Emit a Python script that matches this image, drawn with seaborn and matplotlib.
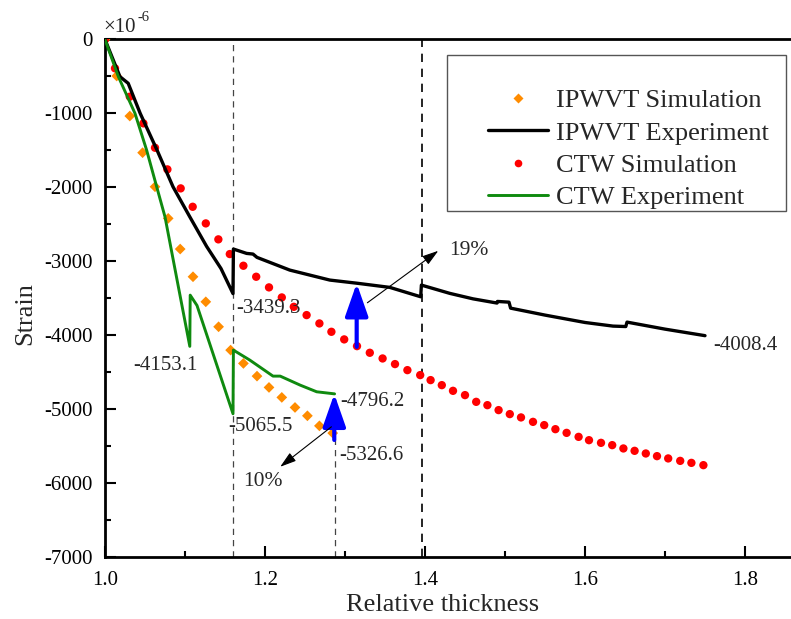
import seaborn as sns
import matplotlib.pyplot as plt
import pandas as pd
from matplotlib.ticker import MultipleLocator, FormatStrFormatter
from matplotlib.lines import Line2D
from matplotlib.patches import Rectangle

# IPWVT simulation (orange diamonds)
ipwvt_sim_x = [1.0, 1.0146, 1.031, 1.047, 1.0625, 1.079, 1.094, 1.110, 1.126, 1.142,
               1.157, 1.173, 1.190, 1.205, 1.221, 1.2375, 1.253, 1.268, 1.2846]
ipwvt_sim_y = [0, -494, -1036, -1532, -1993, -2421, -2836, -3211, -3550, -3888,
               -4204, -4384, -4556, -4709, -4844, -4980, -5093, -5229, -5326.6]

# CTW simulation (red dots)
ctw_sim_x = [1.0, 1.0125, 1.031, 1.048, 1.0625, 1.078, 1.0946, 1.1096, 1.126, 1.1417,
             1.156, 1.173, 1.189, 1.205, 1.221, 1.236, 1.252, 1.268, 1.283, 1.299,
             1.315, 1.331, 1.347, 1.3625, 1.378, 1.394, 1.407, 1.421, 1.435, 1.45,
             1.464, 1.478, 1.492, 1.506, 1.52, 1.535, 1.549, 1.563, 1.577, 1.592,
             1.605, 1.62, 1.634, 1.648, 1.662, 1.676, 1.690, 1.704, 1.719, 1.733, 1.748]
ctw_sim_y = [0, -390, -774, -1135, -1465, -1758, -2015, -2264, -2489, -2705,
             -2904, -3062, -3211, -3355, -3491, -3618, -3730, -3843, -3956, -4059,
             -4150, -4240, -4317, -4393, -4475, -4542, -4610, -4678, -4755, -4813,
             -4904, -4949, -5016, -5070, -5115, -5175, -5219, -5274, -5324, -5378,
             -5423, -5459, -5490, -5535, -5567, -5603, -5639, -5670, -5703, -5730, -5761]

# IPWVT experiment (black line)
ipwvt_exp_x = [1.0, 1.0187, 1.029, 1.044, 1.065, 1.085, 1.106, 1.127, 1.145, 1.160,
               1.1605, 1.177, 1.185, 1.19, 1.231, 1.281, 1.316, 1.356, 1.3946, 1.3955,
               1.431, 1.46, 1.49, 1.4905, 1.505, 1.507, 1.55, 1.60, 1.635, 1.651,
               1.6525, 1.70, 1.75]
ipwvt_exp_y = [0, -503, -593, -1000, -1496, -1993, -2400, -2800, -3100, -3439.3,
               -2836, -2895, -2904, -2949, -3121, -3256, -3300, -3355, -3482, -3324,
               -3436, -3510, -3567, -3545, -3555, -3636, -3730, -3830, -3879, -3885,
               -3825, -3920, -4008.4]

# CTW experiment (green line)
ctw_exp_x = [1.0, 1.0167, 1.0375, 1.052, 1.0646, 1.075, 1.09, 1.106, 1.1065, 1.115,
             1.160, 1.1605, 1.181, 1.21, 1.219, 1.244, 1.2646, 1.287]
ctw_exp_y = [0, -503, -1000, -1496, -1993, -2400, -3250, -4153.1, -3460, -3600,
             -5065.5, -4204, -4339, -4556, -4556, -4678, -4768, -4796.2]

# value labels: (text, x, y, ha)
value_labels = [
    ('-3439.3', 1.1646, -3635, 'left'),
    ('-4153.1', 1.075, -4407, 'center'),
    ('-5065.5', 1.154, -5242, 'left'),
    ('-4796.2', 1.294, -4904, 'left'),
    ('-5326.6', 1.293, -5626, 'left'),
    ('-4008.4', 1.760, -4136, 'left'),
]

df_ipwvt_sim = pd.DataFrame({'x': ipwvt_sim_x, 'y': ipwvt_sim_y})
df_ctw_sim = pd.DataFrame({'x': ctw_sim_x, 'y': ctw_sim_y})
df_ipwvt_exp = pd.DataFrame({'x': ipwvt_exp_x, 'y': ipwvt_exp_y})
df_ctw_exp = pd.DataFrame({'x': ctw_exp_x, 'y': ctw_exp_y})

sns.set_style('ticks')
plt.rcParams['font.family'] = ['Liberation Serif', 'DejaVu Serif']
plt.rcParams['axes.unicode_minus'] = False

fig = plt.figure(figsize=(7.91, 6.19), dpi=100)
ax = fig.add_axes([105 / 791, 62.3 / 619, 686 / 791, 517.2 / 619])

orange = '#ff8c00'
green = '#0f8a0f'

# reference dashed lines
ax.axvline(1.16, color='#444444', lw=0.9, ls=(0, (5, 4)), zorder=1)
ax.axvline(1.396, color='black', lw=1.2, ls=(0, (5, 4)), zorder=1)
ax.vlines(1.287, -7000, -5420, color='#444444', lw=0.9, ls=(0, (5, 4)), zorder=1)

sns.scatterplot(data=df_ipwvt_sim, x='x', y='y', marker='D', s=30, color=orange,
                edgecolor='none', ax=ax, zorder=3)
sns.scatterplot(data=df_ctw_sim, x='x', y='y', marker='o', s=36, color='red',
                edgecolor='none', ax=ax, zorder=3)
sns.lineplot(data=df_ipwvt_exp, x='x', y='y', sort=False, color='black', lw=2.4,
             ax=ax, zorder=4)
sns.lineplot(data=df_ctw_exp, x='x', y='y', sort=False, color=green, lw=2.1,
             ax=ax, zorder=4)

# blue difference arrows
blue_kw = dict(arrowstyle='-|>,head_length=1.0,head_width=0.35', color='blue',
               lw=3, mutation_scale=20, shrinkA=0, shrinkB=0)
ax.annotate('', xy=(1.3146, -3300), xytext=(1.3146, -4160), arrowprops=blue_kw, zorder=5)
ax.annotate('', xy=(1.2866, -4796.2), xytext=(1.2866, -5420), arrowprops=blue_kw, zorder=5)

# thin percentage arrows
thin_kw = dict(arrowstyle='-|>,head_length=0.7,head_width=0.22', color='black',
               lw=0.8, mutation_scale=14, shrinkA=0, shrinkB=0)
ax.annotate('', xy=(1.4166, -2860), xytext=(1.328, -3563), arrowprops=thin_kw, zorder=5)
ax.annotate('', xy=(1.219, -5783), xytext=(1.283, -5242), arrowprops=thin_kw, zorder=5)
ax.text(1.43, -2850, '19%', fontsize=15.5, ha='left', va='center')
ax.text(1.197, -5985, '10%', fontsize=15.5, ha='center', va='center')

for txt, x, y, ha in value_labels:
    ax.text(x, y, txt, fontsize=15, ha=ha, va='center', zorder=6)

ax.set_xlim(1.0, 1.0 + 686 / 800)
ax.set_ylim(-7000, 0)
ax.xaxis.set_major_locator(MultipleLocator(0.2))
ax.xaxis.set_minor_locator(MultipleLocator(0.1))
ax.xaxis.set_major_formatter(FormatStrFormatter('%.1f'))
ax.yaxis.set_major_locator(MultipleLocator(1000))
ax.yaxis.set_minor_locator(MultipleLocator(500))
ax.tick_params(which='major', direction='in', length=8, width=1.5, labelsize=15,
               color='black', labelcolor='black')
ax.tick_params(axis='x', which='major', pad=10)
ax.tick_params(axis='y', which='major', pad=9)
ax.tick_params(which='minor', direction='in', length=4, width=1.5, color='black')
for side in ['left', 'bottom', 'top']:
    ax.spines[side].set_linewidth(2)
    ax.spines[side].set_color('black')
ax.spines['right'].set_visible(False)

ax.set_xlabel('Relative thickness', fontsize=19)
ax.set_ylabel('Strain', fontsize=19)
ax.xaxis.set_label_coords(0.492, -0.073)
ax.yaxis.set_label_coords(-0.10, 0.471)

fig.text(103 / 791, 1 - 32 / 619, '\u00d710', fontsize=15, ha='left', va='baseline')
fig.text(138 / 791, 1 - 21 / 619, '-6', fontsize=10.5, ha='left', va='baseline')

# legend frame drawn separately so its padding matches
ax.add_patch(Rectangle((0.4985, 0.6684), 0.4942, 0.3016, transform=ax.transAxes,
                       facecolor='white', edgecolor='#555555', lw=1.0, zorder=7))
handles = [
    Line2D([], [], ls='none', marker='D', ms=5.5, color=orange, mec='none'),
    Line2D([], [], color='black', lw=2.4),
    Line2D([], [], ls='none', marker='o', ms=5.5, color='red', mec='none'),
    Line2D([], [], color=green, lw=2.1),
]
labels = ['IPWVT Simulation', 'IPWVT Experiment', 'CTW Simulation', 'CTW Experiment']
leg = ax.legend(handles, labels, loc='upper left', bbox_to_anchor=(0.558, 0.905),
                fontsize=19, handlelength=2.3, handletextpad=0.3, labelspacing=0.34,
                borderpad=0, borderaxespad=0, frameon=False)
leg.set_zorder(8)

fig.savefig('out.png', dpi=100)
